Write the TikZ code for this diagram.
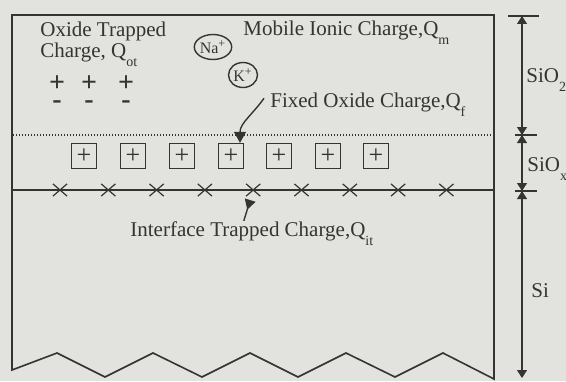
\documentclass[tikz,border=0pt]{standalone}
\usepackage{fontspec}
\setmainfont{Liberation Serif}
\usepackage{xcolor}
\usetikzlibrary{arrows.meta,shapes.misc,shapes.geometric}

\definecolor{ink}{RGB}{52,52,50}
\definecolor{paper}{RGB}{226,226,222}
\newcommand{\lsub}[1]{\raisebox{-4.5pt}{\fontsize{7}{8}\selectfont #1}}

\begin{document}
\begin{tikzpicture}[
  x=0.5pt,y=0.5pt,
  font=\fontsize{10.5}{11}\selectfont,
  every node/.style={text=ink},
  wall/.style={draw=ink,line width=0.8pt},
  oxline/.style={ink,line width=0.55pt,dash pattern=on 0.7pt off 0.8pt},
  ifline/.style={ink,line width=0.8pt},
  lbl/.style={anchor=base west,inner sep=0pt},
  ion/.style={ellipse,draw=ink,line width=0.7pt,minimum width=14.5pt,minimum height=12.5pt,
    inner sep=0pt,font=\fontsize{8}{8}\selectfont},
  oxq/.style={inner sep=0pt,align=center,font=\bfseries\fontsize{14}{8.3}\selectfont},
  fixq/.style={rectangle,draw=ink,line width=0.7pt,minimum size=12.5pt,inner sep=0pt,
    font=\fontsize{13}{13}\selectfont},
  trap/.style={cross out,draw=ink,line width=0.6pt,minimum width=6.5pt,minimum height=5.5pt,inner sep=0pt},
  ptr/.style={-{Triangle[length=5.5pt,width=6pt]},ink,line width=0.7pt},
  ptrr/.style={-{Triangle[length=5pt,width=5.5pt,reversed]},ink,line width=0.7pt},
  dim/.style={{Triangle[length=4pt,width=5pt]}-{Triangle[length=4pt,width=5pt]},ink,line width=0.55pt},
  tick/.style={ink,line width=0.6pt}
]

\fill[paper] (0,0) rectangle (566,381);
\useasboundingbox (0,0) rectangle (566,381);

%%%%%%%%%%%%%%%%%%%%%%%%%%%%%%%%%%%%%%%%%%%%%%%%%%%%
% Layers: SiO2 / SiOx / Si with broken bottom edge
%%%%%%%%%%%%%%%%%%%%%%%%%%%%%%%%%%%%%%%%%%%%%%%%%%%%
\draw[wall] (12,11) -- (12,366) -- (494,366) -- (494,2)
  -- (443,28) -- (395,4) -- (346,28) -- (298,4) -- (250,28)
  -- (202,4) -- (153,28) -- (105,4) -- (57,28) -- cycle;

\draw[oxline] (13,246) -- (493,246);
\draw[ifline] (12,191) -- (494,191);

%%%%%%%%%%%%%%%%%%%%%%%%%%%%%%%%%%%%%%%%%%%%%%%%%%%%
% Oxide trapped charge
%%%%%%%%%%%%%%%%%%%%%%%%%%%%%%%%%%%%%%%%%%%%%%%%%%%%
\node[lbl] (otlbl) at (40,344) {Oxide Trapped};
\node[lbl] (otlblb) at (40,323) {Charge, Q\lsub{ot}};
\foreach \x [count=\i] in {57,89,126}
  \node[oxq] (ot\i) at (\x,289) {+\\-};

%%%%%%%%%%%%%%%%%%%%%%%%%%%%%%%%%%%%%%%%%%%%%%%%%%%%
% Mobile ionic charge
%%%%%%%%%%%%%%%%%%%%%%%%%%%%%%%%%%%%%%%%%%%%%%%%%%%%
\node[ion] (na) at (213,334) {Na\textsuperscript{+}};
\node[ion] (k) at (243,306) {K\textsuperscript{+}};
\node[lbl] (mlbl) at (243,345) {Mobile Ionic Charge,Q\lsub{m}};

%%%%%%%%%%%%%%%%%%%%%%%%%%%%%%%%%%%%%%%%%%%%%%%%%%%%
% Fixed oxide charge
%%%%%%%%%%%%%%%%%%%%%%%%%%%%%%%%%%%%%%%%%%%%%%%%%%%%
\node[lbl] (flbl) at (270,274) {Fixed Oxide Charge,Q\lsub{f}};
\foreach \x [count=\i] in {84,133,182,231,279,328,376}
  \node[fixq] (fq\i) at (\x,225) {+};
\draw[ptr] ([shift={(-3pt,3pt)}]flbl.west) to[out=235,in=90] ([xshift=4.5pt]fq4.north);

%%%%%%%%%%%%%%%%%%%%%%%%%%%%%%%%%%%%%%%%%%%%%%%%%%%%
% Interface trapped charge
%%%%%%%%%%%%%%%%%%%%%%%%%%%%%%%%%%%%%%%%%%%%%%%%%%%%
\foreach \i in {0,...,8}
  \node[trap] (x\i) at ({60+48.3*\i},191) {};
\node[lbl] (itlbl) at (130,145) {Interface Trapped Charge,Q\lsub{it}};
\draw[ptrr] ([shift={(-4pt,0pt)}]itlbl.north) -- ([shift={(-1.5pt,-2pt)}]x4.south);

%%%%%%%%%%%%%%%%%%%%%%%%%%%%%%%%%%%%%%%%%%%%%%%%%%%%
% Thickness marks
%%%%%%%%%%%%%%%%%%%%%%%%%%%%%%%%%%%%%%%%%%%%%%%%%%%%
\coordinate (d0) at (522,365);
\coordinate (d1) at (522,246);
\coordinate (d2) at (522,190);
\coordinate (d3) at (522,3);
\draw[tick] (508,365) -- (539,365);
\draw[tick] (515,246) -- (537,246);
\draw[tick] (515,190) -- (537,190);
\draw[dim] (d0) -- (d1);
\draw[dim] (d1) -- (d2);
\draw[dim] (d2) -- (d3);

\node[lbl] (sio2) at (526,299) {SiO\lsub{2}};
\node[lbl] (siox) at (527,210) {SiO\lsub{x}};
\node[lbl] (si) at (531,84) {Si};

\end{tikzpicture}
\end{document}
